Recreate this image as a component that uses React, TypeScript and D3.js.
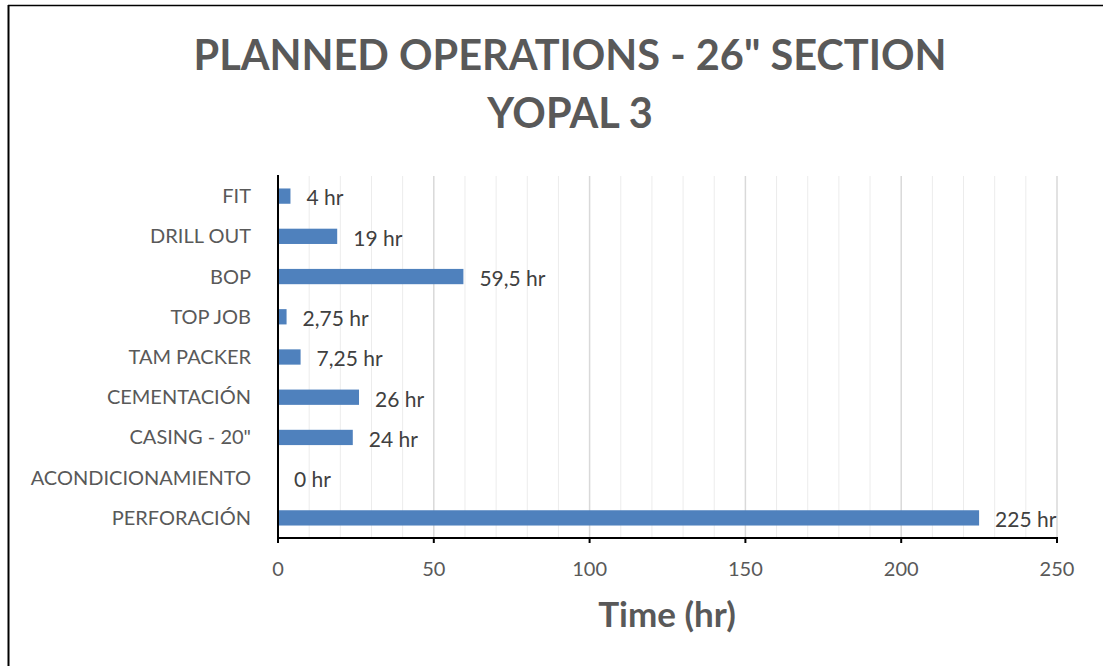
import React from "react";
import * as d3 from "d3";

const categories = ["FIT", "DRILL OUT", "BOP", "TOP JOB", "TAM PACKER", "CEMENTACIÓN", "CASING - 20\"", "ACONDICIONAMIENTO", "PERFORACIÓN"];
const values = [4, 19, 59.5, 2.75, 7.25, 26, 24, 0, 225];
const valueLabels = ["4 hr", "19 hr", "59,5 hr", "2,75 hr", "7,25 hr", "26 hr", "24 hr", "0 hr", "225 hr"];
const majorTicks = [0, 50, 100, 150, 200, 250];
const minorTicks = d3.range(0, 251, 10);
const titleLines = ["PLANNED OPERATIONS - 26\" SECTION", "YOPAL 3"];
const axisTitle = "Time (hr)";

const W = 1103, H = 666;
const left = 278, right = 1057, top = 176, bottom = 538;
const FONT = "Lato, 'Open Sans', sans-serif";

export default function App() {
  const x = d3.scaleLinear().domain([0, 250]).range([left, right]);
  const y = d3.scaleBand<string>().domain(categories).range([top, bottom]).paddingInner(0.62).paddingOuter(0.31);
  return (
    <svg width={W} height={H} style={{ position: "absolute", left: 0, top: 0, background: "#fff" }} fontFamily={FONT}>
      <line x1={8.5} y1={5} x2={8.5} y2={H} stroke="#000" strokeWidth={2} />
      <line x1={8} y1={5.5} x2={W} y2={5.5} stroke="#000" strokeWidth={1.5} />
      {titleLines.map((t, i) => (
        <text key={t} x={570} y={70 + i * 58} textAnchor="middle" fontSize={41.5} fontWeight={700} fill="#595959">{t}</text>
      ))}
      {minorTicks.map(v => (
        <line key={"m" + v} x1={x(v)} x2={x(v)} y1={top} y2={bottom} stroke={v % 50 === 0 ? "#d9d9d9" : "#ececec"} strokeWidth={v % 50 === 0 ? 1.5 : 1} />
      ))}
      {categories.map((c, i) => (
        <g key={c}>
          <rect x={x(0)} y={y(c)!} width={x(values[i]) - x(0)} height={y.bandwidth()} fill="#4f81bd" />
          <text x={251} y={y(c)! + y.bandwidth() / 2} dy="0.35em" textAnchor="end" fontSize={20} fill="#595959">{c}</text>
          <text x={x(values[i]) + 16} y={y(c)! + y.bandwidth() / 2 + 2} dy="0.35em" fontSize={21} fill="#404040">{valueLabels[i]}</text>
        </g>
      ))}
      <line x1={left} x2={left} y1={top - 1} y2={bottom + 5} stroke="#000" strokeWidth={2} />
      <line x1={left} x2={right + 1} y1={bottom} y2={bottom} stroke="#000" strokeWidth={2} />
      {majorTicks.map(v => (
        <g key={"t" + v}>
          <line x1={x(v)} x2={x(v)} y1={bottom} y2={bottom + 5} stroke="#000" strokeWidth={2} />
          <text x={x(v)} y={576} textAnchor="middle" fontSize={20} fill="#595959">{v}</text>
        </g>
      ))}
      <text x={667} y={627} textAnchor="middle" fontSize={35} fontWeight={700} fill="#595959">{axisTitle}</text>
    </svg>
  );
}
